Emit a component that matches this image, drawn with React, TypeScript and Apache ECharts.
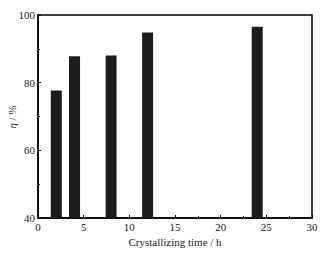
import React, { useEffect, useRef } from "react";
import * as echarts from "echarts";

const times = [2, 4, 8, 12, 24];
const efficiency = [77.7, 87.8, 88.0, 94.8, 96.5];
const xTicks = [0, 5, 10, 15, 20, 25, 30];
const yTicks = [40, 60, 80, 100];

export default function App() {
  const ref = useRef<HTMLDivElement>(null);
  useEffect(() => {
    const chart = echarts.init(ref.current!, null, { renderer: "svg" });
    const font = "Liberation Serif";
    chart.setOption({
      animation: false,
      backgroundColor: "#fff",
      grid: {
        left: 38,
        right: 21,
        top: 15,
        bottom: 35,
        containLabel: false,
        outerBoundsMode: "none",
        show: true,
        borderColor: "#000",
        borderWidth: 1.5,
        backgroundColor: "transparent",
      },
      graphic: [
        {
          type: "text",
          x: 12,
          y: 117,
          rotation: Math.PI / 2,
          style: {
            text: "{i|η} / %",
            fontFamily: font,
            fontSize: 11,
            fill: "#222",
            align: "center",
            verticalAlign: "middle",
            rich: { i: { fontFamily: font, fontSize: 11, fontStyle: "italic", fill: "#222" } },
          },
        },
      ],
      xAxis: {
        type: "value",
        min: xTicks[0],
        max: xTicks[xTicks.length - 1],
        interval: 5,
        name: "Crystallizing time / h",
        nameLocation: "middle",
        nameGap: 17,
        nameTextStyle: { fontFamily: font, fontSize: 11, color: "#222" },
        axisLine: { show: true, lineStyle: { color: "#000", width: 1.5 } },
        axisTick: { show: true, inside: true, length: 3, lineStyle: { color: "#000", width: 1 } },
        minorTick: { show: true, splitNumber: 2, length: 2, lineStyle: { color: "#000", width: 1 } },
        splitLine: { show: false },
        axisLabel: { fontFamily: font, fontSize: 11, color: "#222", margin: 3 },
      },
      yAxis: {
        type: "value",
        min: yTicks[0],
        max: yTicks[yTicks.length - 1],
        interval: 20,
        axisLine: { show: true, lineStyle: { color: "#000", width: 1.5 } },
        axisTick: { show: true, inside: true, length: 3, lineStyle: { color: "#000", width: 1 } },
        minorTick: { show: true, splitNumber: 2, length: 2, lineStyle: { color: "#000", width: 1 } },
        splitLine: { show: false },
        axisLabel: { fontFamily: font, fontSize: 11, color: "#222", margin: 3 },
      },
      series: [
        {
          type: "bar",
          data: times.map((t, i) => [t, efficiency[i]]),
          barWidth: 11,
          itemStyle: { color: "#1c1c1c" },
        },
      ],
    });
    return () => chart.dispose();
  }, []);
  return <div ref={ref} style={{ width: 333, height: 253, position: "absolute", left: 0, top: 0 }} />;
}
